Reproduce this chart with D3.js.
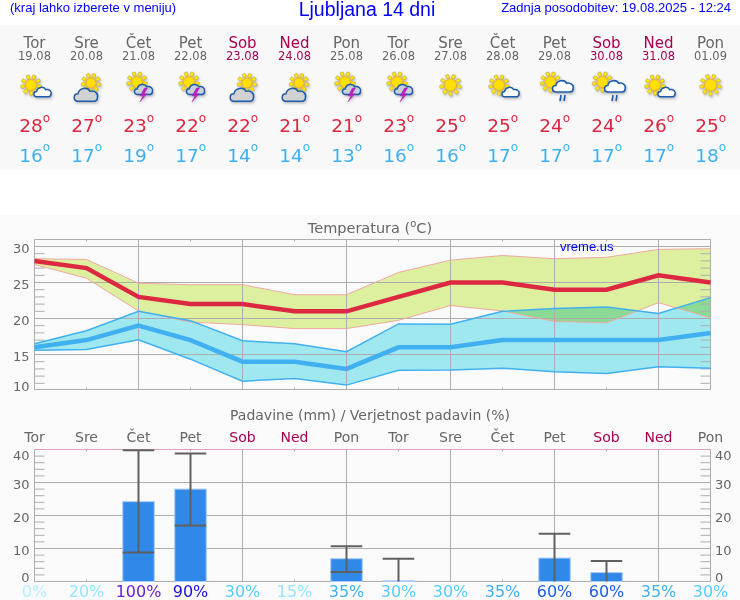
<!DOCTYPE html>
<html>
<head>
<meta charset="utf-8">
<style>
	body { margin: 0; background: #fff; }
	svg { display: block; }
	text { font-family: "DejaVu Sans", sans-serif; }
	.blue { font-family: "Liberation Sans", Arial, sans-serif; fill: #0000ff; }
</style>
</head>
<body>
<div id="chart"></div>
<script src="https://d3js.org/d3.v7.min.js"></script>
<script>

var days = ["Tor","Sre","Čet","Pet","Sob","Ned","Pon","Tor","Sre","Čet","Pet","Sob","Ned","Pon"];
var dates = ["19.08","20.08","21.08","22.08","23.08","24.08","25.08","26.08","27.08","28.08","29.08","30.08","31.08","01.09"];
var icons = ["partly","cloudy","storm","storm","cloudy","cloudy","storm","storm","sun","partly","rain","rain","partly","sun"];

var tempHigh = [28,27,23,22,22,21,21,23,25,25,24,24,26,25];
var tempLow = [16,17,19,17,14,14,13,16,16,17,17,17,17,18];

// spread of the forecast around the max and min temperature
var highUpper = [28.3,28.2,24.9,24.7,24.7,23.3,23.3,26.4,28.1,28.75,28.3,28.5,29.6,29.7];
var highLower = [27.5,25.6,21.05,19.5,19.15,18.6,18.6,19.75,21.8,21.05,19.6,19.4,22.2,20.1];
var lowUpper = [16.5,18.3,21,19.7,16.9,16.5,15.4,19.25,19.2,21,21.4,21.6,20.7,22.9];
var lowLower = [15.6,15.7,17.05,14.35,11.3,11.65,10.75,12.8,12.85,13.1,12.6,12.35,13.3,13.1];

var rain = [0,0,24.2,28,0,0,6.9,0.2,0,0,7.1,2.7,0,0];
var rainMax = [0,0,39.8,38.8,0,0,10.7,6.9,0,0,14.5,6.2,0,0];
var rainMin = [0,0,8.8,17,0,0,2.9,0,0,0,0,0,0,0];
var rainChance = [0,20,100,90,30,15,35,30,30,35,60,60,35,30];

var tempTicks = [10,15,20,25,30];
var rainTicks = [0,10,20,30,40];

var grey = "#666", weekend = "#a8004f", red = "#dc2840", sky = "#40b0f0";
var gridColor = "#adadad";

var svg = d3.select("#chart").append("svg").attr("width", 740).attr("height", 600);

svg.append("rect").attr("x", 0).attr("y", 25).attr("width", 740).attr("height", 145).attr("fill", "#f8f8f8");
svg.append("rect").attr("x", 0).attr("y", 215).attr("width", 740).attr("height", 385).attr("fill", "#fafafa");

var defs = svg.append("defs");
defs.append("filter").attr("id", "shadow")
	.attr("x", "-30%").attr("y", "-30%").attr("width", "160%").attr("height", "160%")
	.append("feDropShadow")
	.attr("dx", 1).attr("dy", 1.5).attr("stdDeviation", 0.9)
	.attr("flood-color", "#555").attr("flood-opacity", 0.4);

var idx = d3.range(days.length);
var x = d3.scalePoint().domain(idx).range([34.5, 710.5]);
var yT = d3.scaleLinear().domain([10.139, 30.972]).range([389.5, 239.5]);
var yR = d3.scaleLinear().domain([0, 40]).range([581.5, 449.5]);

function dayColor(i) { return (days[i] == "Sob" || days[i] == "Ned") ? weekend : grey; }

// header texts
svg.append("text").attr("class", "blue").attr("x", 10).attr("y", 12).attr("font-size", 13).text("(kraj lahko izberete v meniju)");
svg.append("text").attr("class", "blue").attr("x", 367).attr("y", 16).attr("text-anchor", "middle").attr("font-size", 19.5).text("Ljubljana 14 dni");
svg.append("text").attr("class", "blue").attr("x", 731).attr("y", 12).attr("text-anchor", "end").attr("font-size", 13).text("Zadnja posodobitev: 19.08.2025 - 12:24");

var head = svg.append("g").selectAll("g").data(idx).join("g")
	.attr("transform", function(i) { return "translate(" + x(i) + ",0)"; });

head.append("text").attr("y", 47.7).attr("text-anchor", "middle").attr("font-size", 15)
	.attr("fill", dayColor).text(function(i) { return days[i]; });
head.append("text").attr("y", 60).attr("text-anchor", "middle").attr("font-size", 11.5)
	.attr("fill", dayColor).text(function(i) { return dates[i]; });

function degree(sel, vals, base, color) {
	sel.append("text").attr("x", -3.4).attr("y", base).attr("text-anchor", "middle").attr("font-size", 18.5)
		.attr("fill", color).text(function(i) { return vals[i]; });
	sel.append("text").attr("x", 12).attr("y", base - 10.5).attr("text-anchor", "middle").attr("font-size", 12)
		.attr("fill", color).text("o");
}
degree(head, tempHigh, 132, red);
degree(head, tempLow, 161.7, sky);

// weather icons, drawn around the middle of each day column
var cloudPath = "M4 12C0 12 0 6 4 6C5 1 12 0 14 4C18 3 21 6 20 9C20 11 19 12 17 12Z";

function sun(g, cx, cy, r) {
	d3.range(9).forEach(function(k) {
		var a = k * 40 + 10;
		g.append("rect").attr("x", r + 0.8).attr("y", -1.6).attr("width", 4).attr("height", 3.2).attr("rx", 0.6)
			.attr("fill", "#ffe800").attr("stroke", "#b09a50").attr("stroke-width", 0.5)
			.attr("transform", "translate(" + cx + "," + cy + ") rotate(" + a + ")");
	});
	g.append("circle").attr("cx", cx).attr("cy", cy).attr("r", r)
		.attr("fill", "#ffe000").attr("stroke", "#f0a020").attr("stroke-width", 0.8);
}

function cloud(g, dx, dy, s, fill) {
	g.append("path").attr("d", cloudPath)
		.attr("transform", "translate(" + dx + "," + dy + ") scale(" + s + ")")
		.attr("fill", fill).attr("stroke", "#1a5cac").attr("stroke-width", 1.5 / s);
}

head.append("g").attr("filter", "url(#shadow)").each(function(i) {
	var g = d3.select(this), type = icons[i];
	if (type == "sun") {
		sun(g, 0, 85, 6);
	} else if (type == "partly") {
		sun(g, -3.5, 85, 5.5);
		cloud(g, -1.5, 86, 0.9, "#fff");
	} else if (type == "cloudy") {
		sun(g, 4.5, 83, 5);
		cloud(g, -13.5, 86.5, 1.22, "#d2d2d2");
	} else if (type == "storm") {
		sun(g, -1.5, 82, 5.5);
		cloud(g, -5, 83, 0.95, "#c8d0dc");
		g.append("path").attr("d", "M6 88L1.5 96L4.5 95.5L1.5 102L8.5 93.5L5.5 94L9 88Z")
			.attr("fill", "#c020c8").attr("stroke", "#90189a").attr("stroke-width", 0.4);
	} else if (type == "rain") {
		sun(g, -4, 82, 5.5);
		cloud(g, -3, 79, 1.08, "#fff");
		g.append("path").attr("d", "M6.5 95L5.5 101M10.5 95L9.5 101")
			.attr("stroke", "#1a5cac").attr("stroke-width", 1.6).attr("fill", "none");
	}
});

// temperature panel
var panelT = svg.append("g").style("isolation", "isolate");

function band(upper, lower) {
	return d3.area().x(function(i) { return x(i); })
		.y0(function(i) { return yT(lower[i]); })
		.y1(function(i) { return yT(upper[i]); })(idx);
}
function trace(vals, scale) {
	return d3.line().x(function(i) { return x(i); }).y(function(i) { return scale(vals[i]); })(idx);
}

panelT.append("path").attr("d", band(highUpper, highLower)).attr("fill", "#dcf0a0").style("mix-blend-mode", "multiply");
panelT.append("path").attr("d", band(lowUpper, lowLower)).attr("fill", "#a0e8f0").style("mix-blend-mode", "multiply");

function drawFrame(scale, top, bottom, minor, majors, topColor) {
	var g = svg.append("g").attr("fill", "none");
	var minX = x(0), maxX = x(13);
	minor.forEach(function(v) {
		g.append("line").attr("x1", minX).attr("x2", minX + 10).attr("y1", scale(v)).attr("y2", scale(v)).attr("stroke", gridColor);
		g.append("line").attr("x1", maxX - 10).attr("x2", maxX).attr("y1", scale(v)).attr("y2", scale(v)).attr("stroke", gridColor);
	});
	majors.forEach(function(v) {
		g.append("line").attr("x1", minX).attr("x2", maxX).attr("y1", scale(v)).attr("y2", scale(v)).attr("stroke", gridColor);
	});
	idx.forEach(function(i) {
		if (i % 2 == 0) {
			g.append("line").attr("x1", x(i)).attr("x2", x(i)).attr("y1", top).attr("y2", bottom).attr("stroke", gridColor);
		} else {
			g.append("line").attr("x1", x(i)).attr("x2", x(i)).attr("y1", top).attr("y2", top + 2).attr("stroke", gridColor);
			g.append("line").attr("x1", x(i)).attr("x2", x(i)).attr("y1", bottom - 2).attr("y2", bottom).attr("stroke", gridColor);
		}
	});
	g.append("line").attr("x1", maxX).attr("x2", maxX).attr("y1", top).attr("y2", bottom).attr("stroke", gridColor);
	g.append("line").attr("x1", minX).attr("x2", maxX).attr("y1", bottom).attr("y2", bottom).attr("stroke", gridColor);
	g.append("line").attr("x1", minX).attr("x2", maxX).attr("y1", top).attr("y2", top).attr("stroke", topColor);
}

drawFrame(yT, 239.5, 389.5, d3.range(11, 31), [15, 20, 25, 30], gridColor);

function outline(vals, color, w) {
	svg.append("path").attr("d", trace(vals, yT)).attr("fill", "none").attr("stroke", color).attr("stroke-width", w);
}
outline(highUpper, "#f0a8a0", 1);
outline(highLower, "#f0a8a0", 1);
outline(lowUpper, sky, 1.5);
outline(lowLower, sky, 1.5);
outline(tempLow, sky, 4.5);
outline(tempHigh, red, 4.5);

// tick labels sit above their grid line, the two ends are pulled inside the frame
function tickLabels(scale, ticks, side, offset) {
	var axis = side == "left" ? d3.axisLeft(scale) : d3.axisRight(scale);
	var g = svg.append("g")
		.attr("transform", "translate(" + (side == "left" ? 29.5 : 715) + ",0)")
		.call(axis.tickValues(ticks).tickSize(0).tickPadding(0));
	g.select(".domain").remove();
	g.selectAll("text").attr("font-family", "DejaVu Sans").attr("font-size", 13).attr("fill", grey)
		.attr("dy", null).attr("y", offset);
}
tickLabels(yT, tempTicks, "left", function(d) { return d == 10 ? 0 : 6; });
tickLabels(yR, rainTicks, "left", function(d) { return d == 40 ? 10 : d == 0 ? 0 : 5.7; });
tickLabels(yR, rainTicks, "right", function(d) { return d == 40 ? 10 : d == 0 ? 0 : 5.7; });

var titleT = svg.append("text").attr("x", 370).attr("y", 233.3).attr("text-anchor", "middle").attr("font-size", 14.5).attr("fill", grey);
titleT.append("tspan").text("Temperatura (");
titleT.append("tspan").attr("dy", -6).attr("font-size", 10).text("o");
titleT.append("tspan").attr("dy", 6).text("C)");

svg.append("text").attr("x", 560).attr("y", 251).attr("font-size", 13)
	.attr("fill", "#0000ff").style("font-family", "Liberation Sans").text("vreme.us");

// precipitation panel
svg.append("text").attr("x", 370).attr("y", 420).attr("text-anchor", "middle").attr("font-size", 14).attr("fill", grey)
	.text("Padavine (mm) / Verjetnost padavin (%)");

svg.append("g").selectAll("text").data(idx).join("text")
	.attr("x", function(i) { return x(i); }).attr("y", 441.7).attr("text-anchor", "middle").attr("font-size", 14)
	.attr("fill", dayColor).text(function(i) { return days[i]; });

drawFrame(yR, 449.5, 581.5, d3.range(2, 40, 2), [10, 20, 30], "#e0a0c0");

var barW = 31.5;
var wet = idx.filter(function(i) { return rain[i] > 0; });

svg.append("g").selectAll("rect").data(wet).join("rect")
	.attr("x", function(i) { return x(i) - barW / 2; })
	.attr("width", barW)
	.attr("y", function(i) { return yR(rain[i]); })
	.attr("height", function(i) { return yR(0) - yR(rain[i]); })
	.attr("fill", "#3088e8").attr("stroke", "#a8ccf4").attr("stroke-width", 1);

var whisk = svg.append("g").selectAll("g").data(wet).join("g").attr("stroke", "#606060").attr("stroke-width", 2);
whisk.append("line")
	.attr("x1", function(i) { return x(i); }).attr("x2", function(i) { return x(i); })
	.attr("y1", function(i) { return yR(rainMax[i]); }).attr("y2", function(i) { return yR(rainMin[i]); });
whisk.append("line")
	.attr("x1", function(i) { return x(i) - barW / 2; }).attr("x2", function(i) { return x(i) + barW / 2; })
	.attr("y1", function(i) { return yR(rainMax[i]); }).attr("y2", function(i) { return yR(rainMax[i]); });
whisk.filter(function(i) { return rainMin[i] > 0; }).append("line")
	.attr("x1", function(i) { return x(i) - barW / 2; }).attr("x2", function(i) { return x(i) + barW / 2; })
	.attr("y1", function(i) { return yR(rainMin[i]); }).attr("y2", function(i) { return yR(rainMin[i]); });

var chanceColor = d3.scaleThreshold()
	.domain([15, 30, 35, 60, 90, 100])
	.range(["#b4f0ff", "#94e4ff", "#58ccff", "#40b0f4", "#2060e0", "#1a10d0", "#6a20d8"]);

svg.append("g").selectAll("text").data(idx).join("text")
	.attr("x", function(i) { return x(i); }).attr("y", 596.7).attr("text-anchor", "middle").attr("font-size", 16)
	.attr("fill", function(i) { return chanceColor(rainChance[i]); })
	.text(function(i) { return rainChance[i] + "%"; });

</script>
</body>
</html>
